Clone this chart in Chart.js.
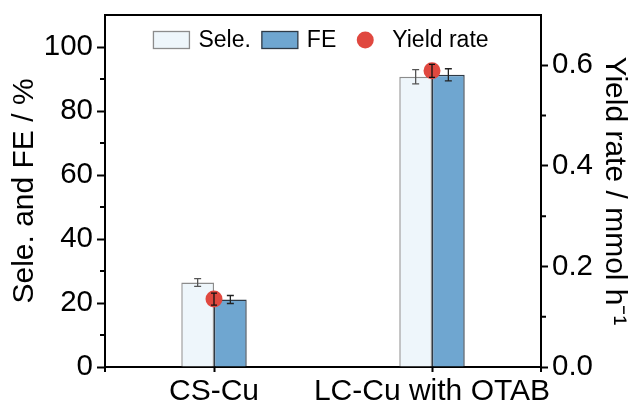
<!DOCTYPE html>
<html>
<head>
<meta charset="utf-8">
<script src="https://cdn.jsdelivr.net/npm/chart.js@4"></script>
<style>
  html, body { margin: 0; padding: 0; background: #fff; }
  #wrap { width: 633px; height: 407px; }
</style>
</head>
<body>
<div id="wrap"><canvas id="chart" width="633" height="407"></canvas></div>
<script>
// Catalyst comparison: selectivity and Faradaic efficiency (left axis), yield rate (right axis)
const categories = ['CS-Cu', 'LC-Cu with OTAB'];

const seleValues = [26.4, 90.7];
const seleErrors = [1.2, 2.2];

const feValues = [21.1, 91.3];
const feErrors = [1.25, 1.9];

const yieldValues = [0.135, 0.589];
const yieldErrors = [0.012, 0.013];

const leftTicks = [0, 20, 40, 60, 80, 100];
const leftMinorTicks = [10, 30, 50, 70, 90];
const rightTicks = [0, 0.2, 0.4, 0.6];
const rightMinorTicks = [0.1, 0.3, 0.5];

const FONT = "'Liberation Sans', Arial, Helvetica, sans-serif";

// Error bars, minor ticks, closing frame line and the in-plot legend
const decorations = {
  id: 'decorations',
  afterDatasetsDraw(chart) {
    const ctx = chart.ctx;
    ctx.save();
    chart.data.datasets.forEach((ds, i) => {
      if (!ds.errorValues) return;
      const meta = chart.getDatasetMeta(i);
      const scale = chart.scales[meta.yAxisID];
      meta.data.forEach((el, j) => {
        const v = ds.data[j], e = ds.errorValues[j];
        const yTop = scale.getPixelForValue(v + e);
        const yBot = scale.getPixelForValue(v - e);
        const x = el.x;
        const cap = ds.errorCap;
        ctx.strokeStyle = ds.errorColor;
        ctx.lineWidth = 1.3;
        ctx.beginPath();
        ctx.moveTo(x, yTop); ctx.lineTo(x, yBot);
        ctx.moveTo(x - cap, yTop); ctx.lineTo(x + cap, yTop);
        ctx.moveTo(x - cap, yBot); ctx.lineTo(x + cap, yBot);
        ctx.stroke();
      });
    });
    ctx.restore();
  },
  afterDraw(chart) {
    const ctx = chart.ctx;
    const area = chart.chartArea;
    const yL = chart.scales.y, yR = chart.scales.y1;
    ctx.save();
    ctx.strokeStyle = '#000';
    ctx.lineWidth = 2;
    ctx.beginPath();
    // top frame line
    ctx.moveTo(area.left - 1, area.top); ctx.lineTo(area.right + 1, area.top);
    // minor ticks
    leftMinorTicks.forEach(v => {
      const y = yL.getPixelForValue(v);
      ctx.moveTo(area.left - 5, y); ctx.lineTo(area.left, y);
    });
    rightMinorTicks.forEach(v => {
      const y = yR.getPixelForValue(v);
      ctx.moveTo(area.right, y); ctx.lineTo(area.right + 5, y);
    });
    // end ticks of the category axis
    ctx.moveTo(area.left, area.bottom); ctx.lineTo(area.left, area.bottom + 5);
    ctx.moveTo(area.right, area.bottom); ctx.lineTo(area.right, area.bottom + 5);
    ctx.stroke();

    // legend inside the plot area
    ctx.font = '23px ' + FONT;
    ctx.textBaseline = 'middle';
    const symW = 36, symH = 17, textGap = 9, itemGap = 11;
    const items = chart.data.datasets.map(ds => ({ ds, w: symW + textGap + ctx.measureText(ds.label).width }));
    const total = items.reduce((s, it) => s + it.w, 0) + itemGap * (items.length - 1);
    let x = (area.left + area.right) / 2 - total / 2 - 2;
    const cy = area.top + 25;
    items.forEach(it => {
      const ds = it.ds;
      if (ds.type === 'line') {
        ctx.fillStyle = ds.backgroundColor;
        ctx.beginPath();
        ctx.arc(x + symW / 2, cy, ds.pointRadius, 0, Math.PI * 2);
        ctx.fill();
      } else {
        ctx.fillStyle = ds.backgroundColor;
        ctx.fillRect(x, cy - symH / 2, symW, symH);
        ctx.strokeStyle = ds.borderColor;
        ctx.lineWidth = 1.3;
        ctx.strokeRect(x, cy - symH / 2, symW, symH);
      }
      ctx.fillStyle = '#000';
      ctx.fillText(ds.label, x + symW + textGap, cy + 1);
      x += it.w + itemGap;
    });
    ctx.restore();
  }
};

new Chart(document.getElementById('chart'), {
  type: 'bar',
  data: {
    labels: categories,
    datasets: [
      {
        label: 'Sele.',
        data: seleValues,
        errorValues: seleErrors,
        errorColor: '#555',
        errorCap: 3.5,
        backgroundColor: '#eef6fb',
        borderColor: '#8c8c8c',
        borderWidth: 1.4,
        yAxisID: 'y',
        order: 1,
        categoryPercentage: 0.3,
        barPercentage: 1.0
      },
      {
        label: 'FE',
        data: feValues,
        errorValues: feErrors,
        errorColor: '#222',
        errorCap: 3.5,
        backgroundColor: '#6fa6d0',
        borderColor: '#2e3a46',
        borderWidth: 1.4,
        yAxisID: 'y',
        order: 1,
        categoryPercentage: 0.3,
        barPercentage: 1.0
      },
      {
        type: 'line',
        label: 'Yield rate',
        data: yieldValues,
        errorValues: yieldErrors,
        errorColor: '#111',
        errorCap: 3,
        showLine: false,
        pointRadius: 8.5,
        pointHoverRadius: 8.5,
        backgroundColor: '#e0483f',
        borderColor: '#e0483f',
        borderWidth: 0,
        yAxisID: 'y1',
        order: 0
      }
    ]
  },
  options: {
    responsive: false,
    animation: false,
    events: [],
    layout: { padding: { top: 15, left: 0, right: 0, bottom: 0 } },
    plugins: { legend: { display: false }, tooltip: { enabled: false } },
    scales: {
      x: {
        type: 'category',
        offset: true,
        afterFit: s => { s.height = 40; s.paddingLeft = 0; s.paddingRight = 0; },
        ticks: { color: '#000', font: { family: FONT, size: 30 }, padding: 2, maxRotation: 0, autoSkip: false },
        grid: { display: true, offset: false, drawOnChartArea: false, tickLength: 5, tickColor: '#000', tickWidth: 2 },
        border: { display: true, color: '#000', width: 2 }
      },
      y: {
        position: 'left',
        min: 0,
        max: 110,
        afterBuildTicks: s => { s.ticks = leftTicks.map(v => ({ value: v })); },
        afterFit: s => { s.width = 105; s.paddingTop = 0; s.paddingBottom = 0; },
        ticks: { color: '#000', font: { family: FONT, size: 29.5 }, padding: 4 },
        grid: { drawOnChartArea: false, tickLength: 8, tickColor: '#000', tickWidth: 2 },
        border: { display: true, color: '#000', width: 2 },
        title: { display: true, text: 'Sele. and FE / %', color: '#000', font: { family: FONT, size: 30 }, padding: { top: 7, bottom: 0 } }
      },
      y1: {
        position: 'right',
        min: 0,
        max: 0.7,
        afterBuildTicks: s => { s.ticks = rightTicks.map(v => ({ value: v })); },
        afterFit: s => { s.width = 92; s.paddingTop = 0; s.paddingBottom = 0; },
        ticks: { color: '#000', font: { family: FONT, size: 29.5 }, padding: 4, callback: v => Number(v).toFixed(1) },
        grid: { drawOnChartArea: false, tickLength: 7, tickColor: '#000', tickWidth: 2 },
        border: { display: true, color: '#000', width: 2 },
        title: { display: true, text: 'Yield rate / mmol h\u207B\u00B9', color: '#000', font: { family: FONT, size: 30 }, padding: { top: 1, bottom: 0 } }
      }
    }
  },
  plugins: [decorations]
});
</script>
</body>
</html>
